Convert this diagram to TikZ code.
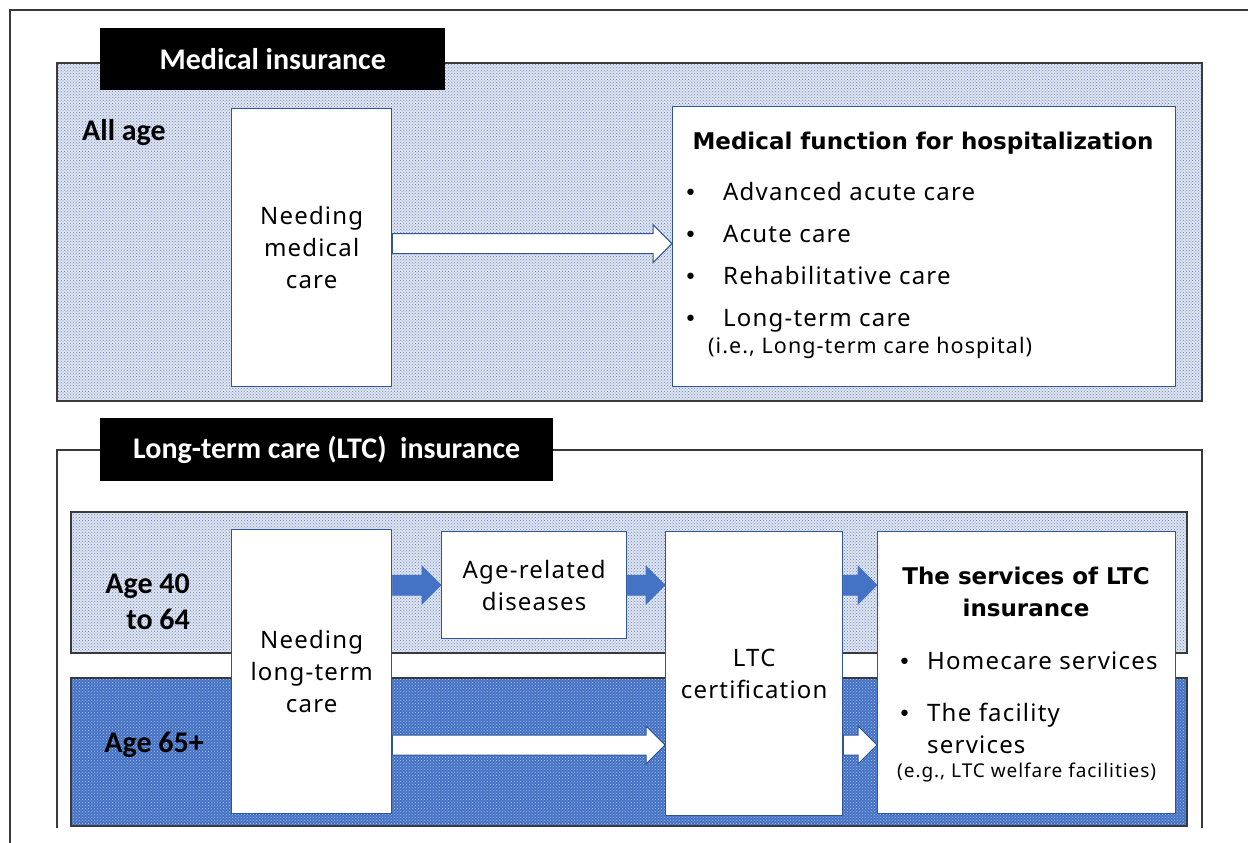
\documentclass[tikz,border=0pt]{standalone}
\usepackage{fontspec}
\setmainfont{Noto Sans}[LetterSpace=5]
\newfontfamily\calibri{Carlito}
\newfontfamily\headfont{DejaVu Sans}
\usepackage{tikz}
\usetikzlibrary{patterns,calc}

\definecolor{framegray}{HTML}{3A3A3A}
\definecolor{boxblue}{HTML}{2F5597}
\definecolor{bandblue}{HTML}{4472C4}
\definecolor{bandpale}{HTML}{DFE5F0}
\definecolor{dotblue}{HTML}{6A84C0}
\definecolor{dotpale}{HTML}{A9BEE8}

\tikzset{
  box/.style={draw=boxblue, line width=1.3pt, fill=white, align=center, inner sep=0pt, anchor=north west},
  tab/.style={fill=black, text=white, font=\calibri\bfseries\fontsize{30}{34}\selectfont, inner sep=0pt, anchor=north west},
  agelabel/.style={font=\calibri\bfseries\fontsize{30}{36}\selectfont, align=right, inner sep=0pt},
  body/.style={font=\fontsize{24}{32}\selectfont, inner sep=0pt},
  item/.style={font=\fontsize{24}{32}\selectfont, inner sep=0pt, anchor=base west},
  bullet/.style={font=\headfont\fontsize{22}{32}\selectfont, inner sep=0pt, anchor=base west},
  head/.style={font=\headfont\bfseries\fontsize{23}{32}\selectfont, align=center, inner sep=0pt},
  lightband/.style={pattern=crosshatch dots, pattern color=dotblue},
  bandedge/.style={draw=framegray, line width=1.3pt},
  fatblue/.style={fill=bandblue, draw=bandblue, line width=0.8pt},
  fatwhite/.style={fill=white, draw=boxblue, line width=1pt},
}

% block arrow from #2 to #3, shaft at the height of #2
\newcommand{\fatarrow}[3]{%
  \draw[#1] let \p1=(#2), \p2=(#3) in
    (\x1,\y1+10) -- (\x2-19,\y1+10) -- (\x2-19,\y1+19) -- (\x2,\y1)
    -- (\x2-19,\y1-19) -- (\x2-19,\y1-10) -- (\x1,\y1-10) -- cycle;}

\begin{document}
\begin{tikzpicture}[x=1pt,y=-1pt]
\useasboundingbox (0,0) rectangle (1248,843);
\fill[white] (0,0) rectangle (1248,843);
% outer frame
\draw[framegray, line width=1.3pt] (1248,10) -- (10,10) -- (10,843);

% medical insurance
\fill[bandpale] (57,63) rectangle (1202,401);
\fill[lightband] (57,63) rectangle (1202,401);
\draw[bandedge] (57,63) rectangle (1202,401);
\node[tab, minimum width=345, minimum height=62] (medtab) at (100,28) {Medical insurance};
\node[agelabel, anchor=west] (allage) at (82,133) {All age};
\node[box, minimum width=160, minimum height=278, body] (needmed) at (231,108)
  {Needing\\medical\\care};
\node[box, minimum width=503, minimum height=280] (medfun) at (672,106) {};
\node[head] (medhead) at (923,143) {Medical function for hospitalization};
\node[bullet] (m1) at (684,200) {•};
\node[bullet] (m2) at (684,242) {•};
\node[bullet] (m3) at (684,284) {•};
\node[bullet] (m4) at (684,326) {•};
\node[item] at (723,200) {Advanced acute care};
\node[item] at (723,242) {Acute care};
\node[item] at (723,284) {Rehabilitative care};
\node[item] at (723,326) {Long-term care};
\node[body, font=\fontsize{21.5}{24}\selectfont, anchor=west] at (708,348) {(i.e., Long-term care hospital)};
\coordinate (medrow) at ($(needmed.east)+(0,-4)$);
\fatarrow{fatwhite}{medrow}{medfun.west |- medrow}

% long-term care insurance
\draw[framegray, line width=1.3pt] (57,828) -- (57,450) -- (1202,450) -- (1202,828);
\node[tab, minimum width=453, minimum height=63] (ltctab) at (100,418) {Long-term care (LTC)\ \ insurance};
\fill[bandpale] (71,512) rectangle (1187,653);
\fill[lightband] (71,512) rectangle (1187,653);
\draw[bandedge] (71,512) rectangle (1187,653);
\fill[bandblue] (71,678) rectangle (1187,826);
\fill[pattern=crosshatch dots, pattern color=dotpale] (71,678) rectangle (1187,826);
\draw[bandedge] (71,678) rectangle (1187,826);
\node[agelabel, anchor=east] (age40) at (190,602) {Age 40\\to 64};
\node[agelabel, anchor=east] (age65) at (204,745) {Age 65+};

\node[box, minimum width=160, minimum height=284, body] (needltc) at (231,529)
  {Needing\\long-term\\care};
\node[box, minimum width=185, minimum height=107, body] (agerel) at (441,531)
  {Age-related\\diseases};
\node[box, minimum width=177, minimum height=284, body] (ltccert) at (665,531)
  {LTC\\certification};
\node[box, minimum width=298, minimum height=282] (serv) at (877,531) {};
\node[head] (servhead) at (1026,592) {The services of LTC\\insurance};
\node[bullet] (s1) at (898,669) {•};
\node[bullet] (s2) at (898,721) {•};
\node[item] at (927,669) {Homecare services};
\node[item] at (927,721) {The facility};
\node[item] at (927,753) {services};
\node[body, font=\fontsize{19}{24}\selectfont, anchor=west] at (897,773) {(e.g., LTC welfare facilities)};

\fatarrow{fatblue}{needltc.east |- agerel.west}{agerel.west}
\fatarrow{fatblue}{agerel.east}{ltccert.west |- agerel.east}
\fatarrow{fatblue}{ltccert.east |- agerel.east}{serv.west |- agerel.east}
\fatarrow{fatwhite}{needltc.east |- age65.west}{ltccert.west |- age65.west}
\fatarrow{fatwhite}{ltccert.east |- age65.west}{serv.west |- age65.west}
\end{tikzpicture}
\end{document}
